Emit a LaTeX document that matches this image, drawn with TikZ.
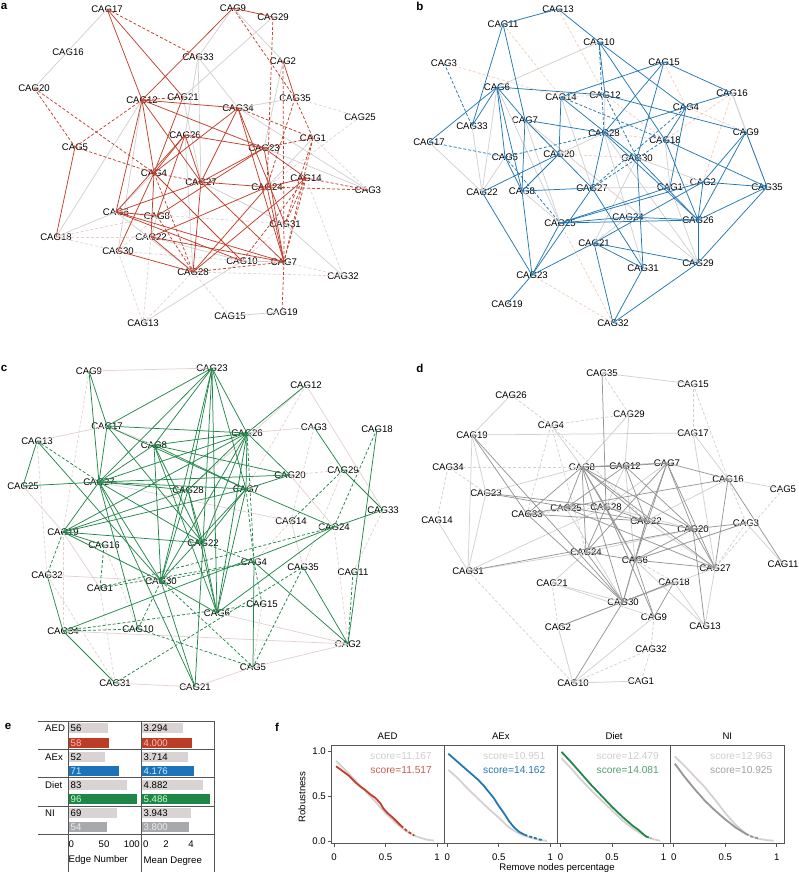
\documentclass[tikz,border=0pt]{standalone}
\usepackage{fontspec}
\setmainfont{Liberation Sans}
\usetikzlibrary{arrows}
\definecolor{aedred}{RGB}{193,63,43}
\definecolor{aexblue}{RGB}{35,120,180}
\definecolor{dietgreen}{RGB}{35,135,75}
\definecolor{nidark}{RGB}{150,150,150}
\definecolor{edgegrey}{RGB}{210,208,208}
\definecolor{edgepink}{RGB}{228,210,210}
\definecolor{edgepeach}{RGB}{240,208,188}
\definecolor{barlight}{RGB}{217,211,211}
\definecolor{barred}{RGB}{188,60,38}
\definecolor{barblue}{RGB}{28,115,185}
\definecolor{bargreen}{RGB}{30,135,72}
\definecolor{bargrey}{RGB}{168,169,173}
\definecolor{rulegrey}{RGB}{85,85,85}
\definecolor{scorelight}{RGB}{205,205,205}
\definecolor{curvelight}{RGB}{214,208,208}

\begin{document}
\begin{tikzpicture}[x=1pt, y=-1pt, font=\fontsize{9.6}{11.5}\selectfont]
	\tikzstyle{cag} = [inner sep=0pt]
	\tikzstyle{tag} = [inner sep=0pt, font=\fontsize{11.5}{13}\selectfont\bfseries]
	\tikzstyle{thin} = [line width=0.75pt]
	\tikzstyle{cut} = [dash pattern=on 3pt off 2pt]
	\tikzstyle{rule} = [rulegrey, line width=0.6pt]
	\tikzstyle{curve} = [line width=1.8pt, line join=round]
	\useasboundingbox (0,0) rectangle (798,875);
	\node[tag] (la) at (4,6) {a};
	\node[tag] (lb) at (420,6) {b};
	\node[tag] (lc) at (4,368) {c};
	\node[tag] (ld) at (420,368) {d};
	\node[tag] (le) at (8,726) {e};
	\node[tag] (lf) at (277,727) {f};
	% network a
	\foreach \n/\x/\y in {17/107/9, 9/233/8, 29/273/17, 16/68/52, 33/198/57, 2/283/61, 20/34/88,
	  12/142/100, 21/183/97, 34/238/108, 35/295/98, 25/360/117, 26/185/135, 1/313/138, 5/75/147,
	  23/264/148, 4/154/173, 27/201/182, 14/306/178, 24/267/187, 3/368/190, 6/116/212, 8/157/216,
	  31/285/224, 18/56/237, 22/151/237, 30/118/251, 10/242/261, 7/284/262, 28/193/272,
	  32/343/276, 15/230/316, 19/282/312, 13/143/323}
	  \node[cag] (a\n) at (\x,\y) {CAG\n};
	\foreach \u/\v in {35/25, 25/24, 18/22, 18/8, 18/30, 30/13, 22/13, 28/15, 28/32, 7/32, 14/32,
	  31/10, 8/30, 6/31, 1/3, 10/30, 13/28}
	  \draw[edgepink, thin, cut] (a\u.center) -- (a\v.center);
	\foreach \u/\v in {17/20, 9/33, 9/2, 29/21, 33/27, 33/34, 35/34, 34/3, 23/3, 31/32, 18/6, 18/12,
	  13/10, 15/19, 10/7, 33/26, 2/23, 12/30, 26/28, 27/31, 8/22, 6/28, 1/24, 4/6, 21/27, 22/10}
	  \draw[edgegrey, thin] (a\u.center) -- (a\v.center);
	\foreach \u/\v in {17/33, 9/35, 35/1, 29/24, 2/7, 7/19, 20/5, 20/4, 5/12, 5/4, 4/27, 34/1, 23/1,
	  24/3, 14/3, 1/7, 14/31, 14/10, 28/7, 12/21, 4/28, 1/31, 14/7, 8/28, 24/35}
	  \draw[aedred, thin, cut] (a\u.center) -- (a\v.center);
	\foreach \u/\v in {17/12, 17/21, 9/12, 9/29, 2/35, 12/34, 12/4, 12/6, 12/27, 12/23, 21/4, 34/4,
	  34/27, 34/7, 34/31, 26/23, 26/27, 26/4, 26/8, 26/6, 23/27, 23/8, 23/14, 23/7, 27/24, 27/28,
	  27/7, 27/6, 4/30, 4/22, 4/10, 6/8, 6/7, 22/7, 22/28, 30/28, 24/22, 24/28, 14/28, 14/24,
	  24/7, 5/18, 6/10}
	  \draw[aedred, thin] (a\u.center) -- (a\v.center);
	% network b
	\foreach \n/\x/\y in {13/558/9, 11/503/24, 10/599/42, 3/444/63, 15/664/62, 6/497/87, 16/732/93,
	  14/561/97, 12/605/95, 4/686/107, 7/525/120, 33/472/126, 28/604/133, 18/665/140, 9/746/132,
	  17/429/142, 5/505/157, 20/559/154, 30/637/158, 2/703/182, 35/767/187, 1/670/187, 27/592/188,
	  22/482/192, 8/522/191, 24/628/217, 25/560/223, 26/698/220, 21/594/243, 29/698/263,
	  31/643/268, 23/532/275, 19/507/304, 32/613/323}
	  \node[cag] (b\n) at (\x,\y) {CAG\n};
	\foreach \u/\v in {11/14, 3/14, 15/4, 16/2, 23/32, 20/30, 16/18, 13/12, 12/18, 4/9, 2/1, 25/32,
	  28/18, 14/12}
	  \draw[edgepeach, thin, cut] (b\u.center) -- (b\v.center);
	\foreach \u/\v in {10/6, 17/22, 22/6, 22/33, 1/29, 7/29, 28/29, 7/20, 20/28, 5/22, 12/28, 8/25,
	  16/9, 27/1, 30/2, 24/21, 6/25, 14/27, 7/25, 28/31, 30/21, 1/18, 16/35}
	  \draw[edgegrey, thin] (b\u.center) -- (b\v.center);
	\foreach \u/\v in {3/33, 17/5, 5/25, 5/28, 27/4, 10/28, 12/30, 27/18, 14/18}
	  \draw[aexblue, thin, cut] (b\u.center) -- (b\v.center);
	\foreach \u/\v in {13/11, 13/10, 11/33, 11/7, 10/12, 10/18, 10/4, 15/14, 15/16, 15/28, 15/30,
	  6/12, 12/9, 6/33, 6/17, 6/5, 6/8, 6/7, 7/27, 7/28, 7/8, 8/23, 14/20, 14/30, 28/27, 28/26,
	  30/26, 28/4, 4/16, 4/18, 4/1, 18/35, 9/2, 9/26, 9/35, 2/35, 2/26, 2/25, 25/1, 25/26, 25/24,
	  24/26, 35/26, 35/29, 26/29, 30/31, 27/8, 27/23, 27/31, 20/22, 20/8, 22/23, 25/23, 21/23,
	  21/31, 21/29, 21/32, 2/21, 31/32, 29/32, 23/19, 5/8, 18/26}
	  \draw[aexblue, thin] (b\u.center) -- (b\v.center);
	% network c
	\foreach \n/\x/\y in {9/89/371, 23/212/368, 12/306/385, 17/107/426, 26/247/433, 3/314/427,
	  18/377/429, 13/37/441, 8/154/445, 29/343/470, 20/290/475, 25/23/486, 27/99/482, 28/188/490,
	  7/246/489, 33/383/510, 14/291/521, 24/334/527, 19/63/532, 16/104/545, 22/203/543,
	  4/254/562, 35/303/567, 11/353/572, 32/47/575, 30/161/581, 1/100/588, 15/262/604,
	  6/217/613, 34/63/631, 10/138/629, 2/348/644, 5/253/667, 31/115/683, 21/195/687}
	  \node[cag] (c\n) at (\x,\y) {CAG\n};
	\foreach \u/\v in {13/32, 9/19, 19/34, 32/31, 1/31, 16/10, 3/14, 29/35, 11/33, 14/4, 24/2,
	  15/5, 12/7, 20/29}
	  \draw[edgepink, thin, cut] (c\u.center) -- (c\v.center);
	\foreach \u/\v in {9/23, 12/33, 13/17, 25/19, 32/30, 34/2, 31/21, 21/5, 5/2, 6/2, 3/26, 20/24,
	  12/28, 17/8, 19/1, 14/35, 27/14}
	  \draw[edgepink, thin] (c\u.center) -- (c\v.center);
	\foreach \u/\v in {18/24, 29/14, 7/4, 26/4, 4/30, 4/22, 24/1, 34/10, 34/15, 31/35, 35/5, 4/15,
	  19/32, 1/4, 1/16, 10/5, 30/5, 13/27, 11/2, 10/30}
	  \draw[dietgreen, thin, cut] (c\u.center) -- (c\v.center);
	\foreach \u/\v in {9/17, 9/27, 23/17, 23/27, 23/8, 23/28, 23/22, 23/30, 23/7, 23/26, 23/6,
	  12/26, 17/26, 17/27, 17/7, 17/22, 13/25, 13/30, 25/27, 26/8, 26/27, 26/19, 26/22, 26/30,
	  26/6, 26/7, 26/20, 26/28, 8/27, 8/7, 8/22, 8/30, 8/6, 8/20, 27/20, 27/7, 27/28, 27/22,
	  27/30, 27/21, 27/19, 27/10, 19/7, 19/28, 19/22, 19/30, 7/30, 7/6, 7/24, 7/22, 7/20, 28/22,
	  28/30, 22/6, 30/6, 30/21, 6/24, 34/24, 4/5, 4/2, 35/2, 29/33, 3/29, 18/2, 33/24, 32/34,
	  34/31, 22/21, 19/16, 28/6}
	  \draw[dietgreen, thin] (c\u.center) -- (c\v.center);
	% network d
	\foreach \n/\x/\y in {35/602/373, 15/693/384, 26/511/395, 29/629/414, 4/551/425, 19/472/435,
	  17/693/433, 34/448/467, 8/582/467, 12/625/466, 7/667/463, 16/728/479, 5/783/489,
	  23/486/493, 25/566/508, 28/606/507, 33/527/514, 14/437/520, 22/646/521, 20/693/529,
	  3/746/523, 24/586/552, 6/635/560, 27/715/568, 11/783/564, 31/468/571, 21/552/583,
	  18/674/582, 30/623/602, 9/654/617, 13/705/626, 2/558/627, 32/651/649, 10/573/683, 1/641/681}
	  \node[cag] (d\n) at (\x,\y) {CAG\n};
	\foreach \u/\v in {21/2, 32/1, 9/32, 31/10, 34/14, 34/8, 26/4, 4/29, 29/35, 15/17, 15/16, 5/27,
	  3/27, 4/33, 4/24, 16/3, 6/18, 10/32, 23/34, 33/28, 4/22}
	  \draw[edgegrey, thin, cut] (d\u.center) -- (d\v.center);
	\foreach \u/\v in {19/31, 19/17, 35/15, 17/27, 21/30, 2/10, 10/1, 10/9, 14/31, 26/19, 5/16,
	  18/13, 23/31, 4/8, 29/8, 21/24, 6/3, 3/11, 23/8, 33/25, 31/28, 2/30, 29/12, 30/27, 19/23,
	  12/28, 28/20, 25/30, 24/20, 22/27, 6/13, 16/22, 7/28, 12/6, 17/16, 27/13, 21/9, 31/24}
	  \draw[edgegrey, thin] (d\u.center) -- (d\v.center);
	\foreach \u/\v in {19/33, 19/30, 8/12, 8/7, 8/33, 8/24, 8/25, 8/6, 8/22, 8/20, 8/28, 8/27, 8/30,
	  12/7, 12/22, 12/20, 12/25, 7/16, 7/22, 7/6, 7/20, 7/24, 7/27, 16/11, 16/27, 16/33, 23/28,
	  33/22, 33/30, 25/27, 28/6, 28/24, 28/22, 28/9, 22/20, 22/6, 22/30, 20/3, 20/13, 20/27, 20/6,
	  24/6, 24/30, 6/30, 6/9, 6/27, 30/10, 30/18, 18/2, 31/20, 9/18, 35/28, 23/22, 3/6}
	  \draw[nidark, thin] (d\u.center) -- (d\v.center);
	% table e
	\foreach \y/\m/\k/\fillc/\txt in {728/56/3.294/barlight/black, 743/58/4.000/barred/red!25,
	  757/52/3.714/barlight/black, 771/71/4.176/barblue/cyan!20,
	  785/83/4.882/barlight/black, 799/96/5.486/bargreen/green!20,
	  813/69/3.943/barlight/black, 827/54/3.800/bargrey/white!85!gray}
	  {
	  \fill[\fillc] (68.6,\y-5.2) rectangle ({68+0.715*\m},\y+5.2);
	  \fill[\fillc] (141.6,\y-5.2) rectangle ({141+12.65*\k},\y+5.2);
	  \node[anchor=west, inner sep=0pt, text=\txt] (en\y) at (70.5,\y) {\m};
	  \node[anchor=west, inner sep=0pt, text=\txt] (md\y) at (143.5,\y) {\k};
	  }
	\foreach \y/\grp in {728/AED, 757/AEx, 785/Diet, 813/NI}
	  \node[anchor=west, inner sep=0pt] (g\grp) at (45,\y) {\grp};
	\foreach \y in {721, 749, 777, 806, 834}
	  \draw[rule] (38,\y) -- (214,\y);
	\foreach \x in {68, 141, 214}
	  \draw[rule] (\x,721) -- (\x,872);
	\node[anchor=west, inner sep=0pt] (t0) at (68.5,844) {0};
	\node[inner sep=0pt] (t50) at (104,844) {50};
	\node[anchor=east, inner sep=0pt] (t100) at (140,844) {100};
	\node[anchor=west, inner sep=0pt] (m0) at (143,844) {0};
	\node[inner sep=0pt] (m2) at (166,844) {2};
	\node[inner sep=0pt] (m4) at (191,844) {4};
	\node[anchor=west, inner sep=0pt] (xen) at (68.5,860) {Edge Number};
	\node[anchor=west, inner sep=0pt] (xmd) at (143.5,861) {Mean Degree};
	% robustness f
	\draw[rule] (331,745) rectangle (784,843);
	\foreach \L/\ttl in {331/AED, 444.25/AEx, 557.5/Diet, 670.75/NI}
	  {
	  \draw[rule] (\L,745) -- (\L,843);
	  \node[inner sep=0pt] (h\ttl) at (\L+56.6,736) {\ttl};
	  \foreach \u/\lab in {0/0, 0.5/0.5, 1/1}
	    {
	    \draw[rule] ({\L+3+103*\u},843) -- ({\L+3+103*\u},847);
	    \node[inner sep=0pt] at ({\L+3+103*\u},857) {\lab};
	    }
	  }
	\foreach \v/\lab in {0/0.0, 0.5/0.5, 1/1.0}
	  {
	  \draw[rule] (331,841-90*\v) -- (328,841-90*\v);
	  \node[anchor=east, inner sep=0pt] at (326,841-90*\v) {\lab};
	  }
	\node[rotate=90, inner sep=0pt] (ylab) at (302,797) {Robustness};
	\node[inner sep=0pt] (xlab) at (557,868) {Remove nodes percentage};
	\begin{scope}[font=\fontsize{10.2}{12}\selectfont]
	  \node[anchor=east, inner sep=0pt, text=scorelight] (s1) at (432,756) {score=11.167};
	  \node[anchor=east, inner sep=0pt, text=aedred!85!white] (s2) at (432,770) {score=11.517};
	  \node[anchor=east, inner sep=0pt, text=scorelight] (s3) at (545.5,756) {score=10.951};
	  \node[anchor=east, inner sep=0pt, text=aexblue] (s4) at (545.5,770) {score=14.162};
	  \node[anchor=east, inner sep=0pt, text=scorelight] (s5) at (659,756) {score=12.479};
	  \node[anchor=east, inner sep=0pt, text=dietgreen!80!white] (s6) at (659,770) {score=14.081};
	  \node[anchor=east, inner sep=0pt, text=scorelight] (s7) at (772.5,756) {score=12.963};
	  \node[anchor=east, inner sep=0pt, text=nidark!90!white] (s8) at (772.5,770) {score=10.925};
	\end{scope}
	\begin{scope}[shift={(334,841)}, x=103pt, y=90pt]
	  \draw[curve, curvelight] plot coordinates {(0.02,0.89) (0.1,0.8) (0.2,0.68) (0.3,0.56) (0.4,0.44)
	    (0.5,0.31) (0.6,0.2) (0.7,0.11) (0.8,0.05) (0.9,0.015) (0.97,0.005)};
	  \draw[curve, aedred] plot coordinates {(0.02,0.83) (0.08,0.78) (0.15,0.72) (0.2,0.66) (0.25,0.61)
	    (0.3,0.57) (0.35,0.52) (0.4,0.48) (0.45,0.42) (0.48,0.36) (0.52,0.31) (0.58,0.25) (0.65,0.17)};
	  \draw[curve, aedred, cut] plot coordinates {(0.65,0.17) (0.7,0.12) (0.75,0.08) (0.78,0.06)};
	\end{scope}
	\begin{scope}[shift={(447.25,841)}, x=103pt, y=90pt]
	  \draw[curve, curvelight] plot coordinates {(0.01,0.79) (0.1,0.7) (0.2,0.58) (0.3,0.47) (0.4,0.36)
	    (0.5,0.26) (0.6,0.15) (0.7,0.08) (0.8,0.04) (0.9,0.01) (0.97,0.003)};
	  \draw[curve, aexblue] plot coordinates {(0.01,0.97) (0.1,0.88) (0.2,0.78) (0.3,0.68) (0.35,0.62)
	    (0.4,0.55) (0.45,0.48) (0.5,0.39) (0.55,0.31) (0.6,0.22) (0.65,0.15) (0.7,0.1) (0.75,0.07)};
	  \draw[curve, aexblue, cut] plot coordinates {(0.75,0.07) (0.8,0.05) (0.92,0.01)};
	\end{scope}
	\begin{scope}[shift={(560.5,841)}, x=103pt, y=90pt]
	  \draw[curve, curvelight] plot coordinates {(0.01,0.92) (0.1,0.81) (0.2,0.68) (0.3,0.56) (0.4,0.45)
	    (0.5,0.34) (0.6,0.23) (0.7,0.14) (0.8,0.07) (0.9,0.02) (0.97,0.003)};
	  \draw[curve, dietgreen] plot coordinates {(0.01,0.99) (0.1,0.88) (0.2,0.75) (0.3,0.62) (0.4,0.5)
	    (0.5,0.38) (0.6,0.27) (0.7,0.17) (0.75,0.13) (0.8,0.08) (0.83,0.05)};
	  \draw[curve, dietgreen, cut] plot coordinates {(0.83,0.05) (0.88,0.03)};
	\end{scope}
	\begin{scope}[shift={(673.75,841)}, x=103pt, y=90pt]
	  \draw[curve, curvelight] plot coordinates {(0.01,0.94) (0.1,0.84) (0.2,0.72) (0.3,0.6) (0.4,0.46)
	    (0.5,0.31) (0.6,0.18) (0.7,0.08) (0.8,0.03) (0.9,0.01) (0.97,0.003)};
	  \draw[curve, nidark] plot coordinates {(0.01,0.86) (0.1,0.72) (0.2,0.58) (0.3,0.45) (0.4,0.34)
	    (0.5,0.24) (0.6,0.15) (0.7,0.08)};
	  \draw[curve, nidark, cut] plot coordinates {(0.7,0.08) (0.75,0.05) (0.82,0.03)};
	\end{scope}
\end{tikzpicture}
\end{document}
